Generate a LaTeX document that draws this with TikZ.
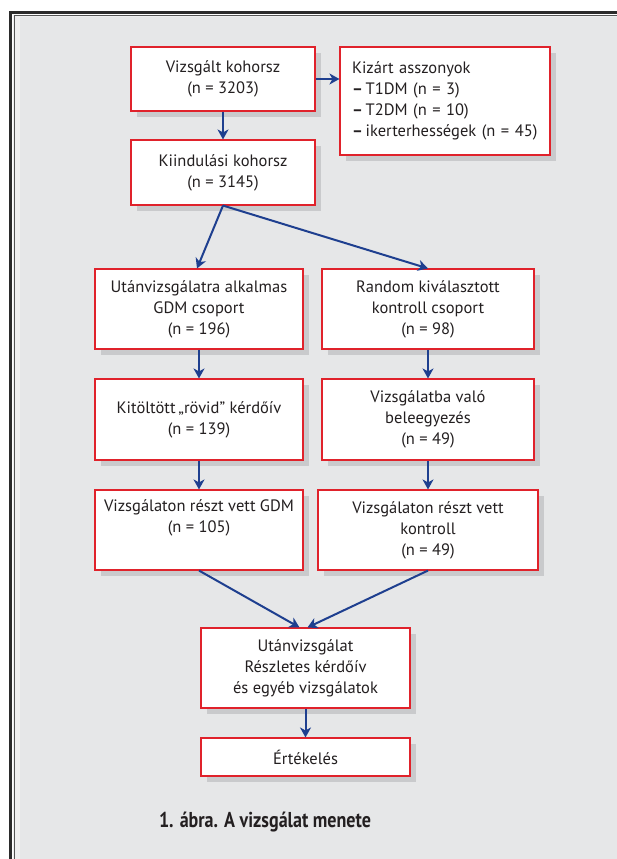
\documentclass[tikz,border=0pt]{standalone}
\usepackage{fontspec}
\setmainfont{PT Sans}
\newfontfamily\capfont[FakeStretch=0.84]{PT Sans}
\usetikzlibrary{arrows.meta,shadows,calc}
\definecolor{panel}{HTML}{E6E7E8}
\definecolor{panelhi}{HTML}{EFEFF0}
\definecolor{framedark}{HTML}{2B2B2B}
\definecolor{framemid}{HTML}{555555}
\definecolor{boxred}{HTML}{E0222B}
\definecolor{flowblue}{HTML}{1E3F8F}
\definecolor{ink}{HTML}{231F20}
\definecolor{shade}{HTML}{C9CACC}
\tikzset{
  stepbox/.style={draw=boxred, line width=1.1pt, fill=white, text=ink,
    align=center, inner sep=0pt, font=\fontsize{16.5}{21}\selectfont,
    drop shadow={shadow xshift=6pt, shadow yshift=-6pt, fill=shade, opacity=1}},
  flow/.style={draw=flowblue, line width=2pt,
    -{Stealth[length=10pt,width=11pt,inset=3pt]}},
}
\begin{document}
\begin{tikzpicture}[x=1pt,y=-1pt]
\useasboundingbox (0,0) rectangle (617,859);
\begin{scope}
  \clip (0,0) rectangle (617,859);
  \fill[white] (0,0) rectangle (617,859);
  % panel with its double frame
  \fill[panelhi] (13,15) rectangle (640,880);
  \fill[panel] (20,17) rectangle (640,880);
  \draw[framedark, line width=3pt] (10.5,12.5) rectangle (640,880);
  \draw[framemid, line width=1.2pt] (14.2,15.6) rectangle (640,880);
\end{scope}

% boxes
\node[stepbox, minimum width=184pt, minimum height=64pt] (coh) at (223,79)
  {Vizsgált kohorsz\\(n = 3203)};
\node[stepbox, minimum width=210pt, minimum height=108pt, align=left,
  text width=186pt] (excl) at (445,101)
  {Kizárt asszonyok\\\textbf{–}\,T1DM (n = 3)\\\textbf{–}\,T2DM (n = 10)\\\textbf{–}\,ikerterhességek (n = 45)};
\node[stepbox, minimum width=184pt, minimum height=65pt] (base) at (223,172.5)
  {Kiindulási kohorsz\\(n = 3145)};
\node[stepbox, minimum width=208pt, minimum height=80pt] (gdm) at (199,309)
  {Utánvizsgálatra alkalmas\\GDM csoport\\(n = 196)};
\node[stepbox, minimum width=212pt, minimum height=80pt] (rnd) at (428,309)
  {Random kiválasztott\\kontroll csoport\\(n = 98)};
\node[stepbox, minimum width=208pt, minimum height=81pt] (ques) at (199,419.5)
  {Kitöltött\,„rövid” kérdőív\\(n = 139)};
\node[stepbox, minimum width=212pt, minimum height=81pt] (cons) at (428,419.5)
  {Vizsgálatba való\\beleegyezés\\(n = 49)};
\node[stepbox, minimum width=208pt, minimum height=80pt] (gdmp) at (199,530)
  {Vizsgálaton részt vett GDM\\(n = 105)\\\strut};
\node[stepbox, minimum width=220pt, minimum height=80pt] (ctrp) at (428,530)
  {Vizsgálaton részt vett\\kontroll\\(n = 49)};
\node[stepbox, minimum width=209pt, minimum height=80pt] (fol) at (305.5,668)
  {Utánvizsgálat\\Részletes kérdőív\\és egyéb vizsgálatok};
\node[stepbox, minimum width=209pt, minimum height=38pt] (eval) at (305.5,757)
  {Értékelés};

% connectors
\coordinate (folL) at ($(fol.north)+(-6,0)$);
\coordinate (folR) at ($(fol.north)+(2,0)$);
\draw[flow] (coh.east) -- (coh.east -| excl.west);
\draw[flow] (coh.south) -- (base.north);
\draw[flow] (base.south) -- ($(gdm.north)+(-2,0)$);
\draw[flow] (base.south) -- (rnd.north);
\draw[flow] (gdm.south) -- (ques.north);
\draw[flow] (rnd.south) -- (cons.north);
\draw[flow] (ques.south) -- (gdmp.north);
\draw[flow] (cons.south) -- (ctrp.north);
\draw[flow] (gdmp.south) -- (folL);
\draw[flow] (ctrp.south) -- (folR);
\draw[flow] (fol.south) -- (eval.north);

% caption
\node[text=ink, font=\capfont\bfseries\fontsize{21.5}{24}\selectfont] (cap) at (265,822)
  {1. ábra. A vizsgálat menete};
\end{tikzpicture}
\end{document}
